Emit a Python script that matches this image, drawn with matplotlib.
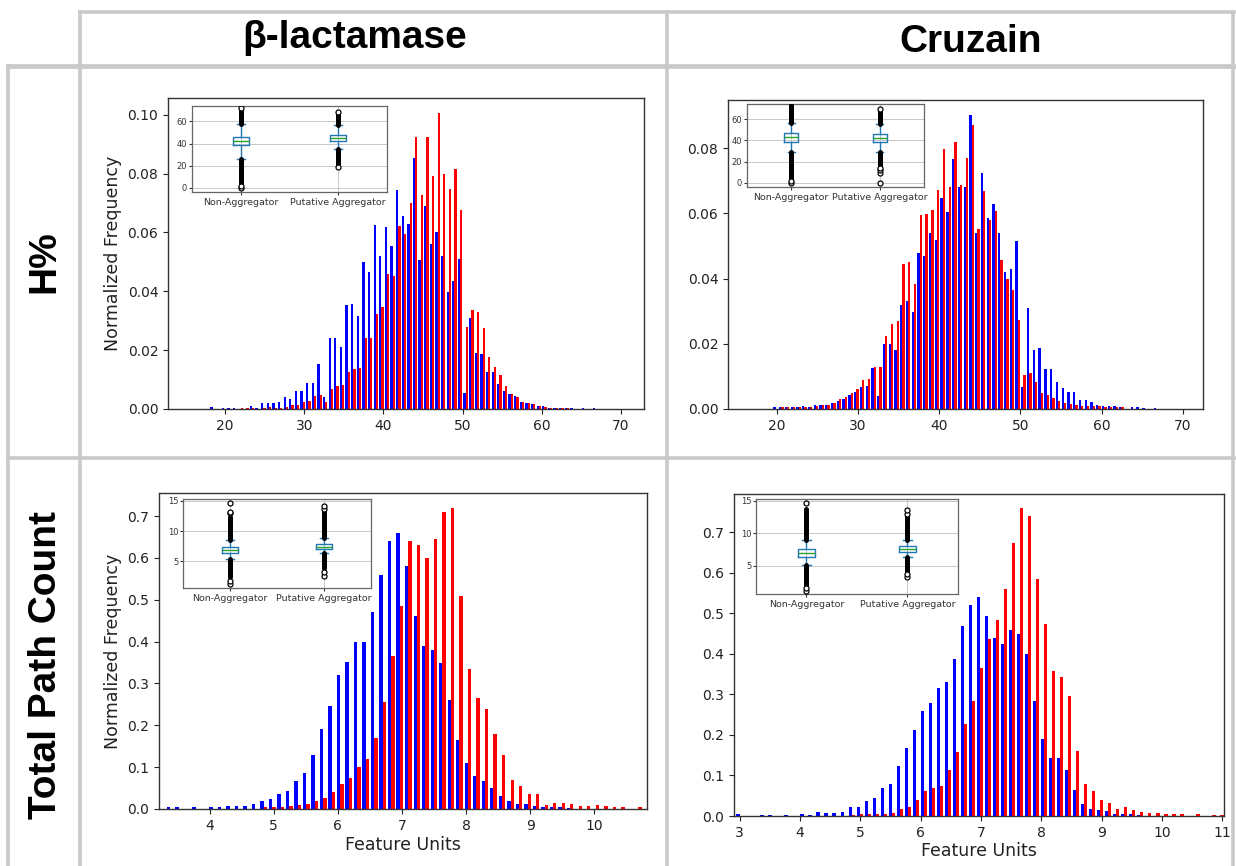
import numpy as np
import matplotlib.pyplot as plt

W, H = 1236, 866

# ---- histogram data (normalized frequency per bin) ----
# H% panels: 72 bins, first blue bar centre and bin width
hp_start, hp_binw = 16.17, 0.71

blac_hp_blue = [0, 0, 0, 0.0006, 0, 0.0005, 0.0005, 0.0005, 0, 0, 0.001, 0.0003,
                0.002, 0.002, 0.002, 0.0024, 0.004, 0.0034, 0.0062, 0.0062, 0.009, 0.0087,
                0.0153, 0.0042, 0.024, 0.024, 0.021, 0.0353, 0.0357, 0.0317, 0.050, 0.0467,
                0.0626, 0.052, 0.062, 0.0555, 0.0744, 0.0657, 0.0629, 0.0853, 0.0506, 0.069,
                0.056, 0.060, 0.052, 0.0396, 0.0436, 0.051, 0.0053, 0.031, 0.019, 0.0187,
                0.0125, 0.0125, 0.0085, 0.0062, 0.005, 0.0045, 0.0023, 0.002, 0.0017, 0.0011,
                0.0009, 0.0005, 0.0005, 0.0004, 0.0004, 0.0004, 0, 0.0004, 0, 0.0004]
blac_hp_red = [0, 0, 0, 0, 0, 0, 0, 0, 0.0005, 0.0005, 0.0005, 0, 0.0005, 0.0007,
               0.0005, 0.0005, 0.0008, 0.0015, 0.0014, 0.0023, 0.0028, 0.0045, 0.0049, 0.0023,
               0.0068, 0.0077, 0.0083, 0.0125, 0.0136, 0.0139, 0.0241, 0.0241, 0.0323, 0.0345,
               0.046, 0.0453, 0.0623, 0.0595, 0.070, 0.0925, 0.0727, 0.0926, 0.0793, 0.1007,
               0.080, 0.0747, 0.0815, 0.0676, 0.028, 0.0336, 0.0328, 0.0274, 0.0178, 0.0144,
               0.0115, 0.0079, 0.005, 0.0042, 0.0023, 0.002, 0.0017, 0.0011, 0.0008, 0.0005,
               0.0005, 0.0004, 0.0004, 0, 0, 0, 0, 0]

cruz_hp_blue = [0, 0, 0, 0, 0, 0.0005, 0.0005, 0.0005, 0.0005, 0.0005, 0.0008, 0.0005,
                0.0013, 0.0013, 0.0013, 0.0017, 0.0026, 0.0031, 0.0043, 0.0053, 0.0067, 0.007,
                0.0126, 0.0039, 0.020, 0.020, 0.0182, 0.032, 0.033, 0.0297, 0.048, 0.047,
                0.054, 0.052, 0.0646, 0.0605, 0.0767, 0.068, 0.068, 0.0902, 0.054, 0.0723,
                0.0585, 0.063, 0.054, 0.042, 0.043, 0.0514, 0.0068, 0.031, 0.018, 0.0186,
                0.0122, 0.0124, 0.0082, 0.0065, 0.0052, 0.0052, 0.0027, 0.0028, 0.002, 0.0013,
                0.0009, 0.0009, 0.0008, 0.0005, 0, 0.0005, 0.0005, 0.0004, 0, 0.0004]
cruz_hp_red = [0, 0, 0, 0, 0, 0, 0.0005, 0.0005, 0.0005, 0.0006, 0.0005, 0.0005,
               0.0008, 0.0013, 0.0013, 0.0017, 0.0031, 0.0038, 0.0048, 0.0062, 0.0089, 0.0092,
               0.0128, 0.0128, 0.0225, 0.026, 0.027, 0.0446, 0.045, 0.0384, 0.0595, 0.0597,
               0.061, 0.0673, 0.0797, 0.068, 0.082, 0.0687, 0.077, 0.087, 0.0553, 0.067,
               0.058, 0.0606, 0.0457, 0.040, 0.0365, 0.0273, 0.0104, 0.011, 0.0083, 0.005,
               0.0043, 0.0033, 0.0026, 0.0017, 0.0015, 0.0012, 0.001, 0.0008, 0.0008, 0.0008,
               0.0006, 0.0006, 0.0005, 0.0005, 0, 0, 0, 0, 0, 0]

# Total Path Count panels
blac_tpc_start, blac_tpc_binw = 3.357, 0.1327
blac_tpc_blue = [0.005, 0.005, 0, 0.004, 0, 0.004, 0.004, 0.007, 0.008, 0.008, 0.011, 0.018,
                 0.025, 0.035, 0.043, 0.067, 0.085, 0.13, 0.19, 0.245, 0.32, 0.352, 0.398, 0.40,
                 0.47, 0.56, 0.64, 0.66, 0.58, 0.46, 0.39, 0.38, 0.35, 0.26, 0.165, 0.11,
                 0.08, 0.067, 0.05, 0.03, 0.02, 0.012, 0.012, 0.008, 0.004, 0.005, 0.004, 0.003,
                 0, 0, 0, 0, 0, 0, 0, 0, 0]
blac_tpc_red = [0, 0, 0, 0, 0, 0, 0, 0, 0, 0, 0, 0.004, 0.005, 0.005, 0.008, 0.010, 0.012,
                0.018, 0.026, 0.04, 0.06, 0.075, 0.10, 0.12, 0.17, 0.255, 0.365, 0.485, 0.64,
                0.63, 0.60, 0.645, 0.71, 0.72, 0.51, 0.335, 0.265, 0.24, 0.18, 0.13, 0.07,
                0.055, 0.035, 0.035, 0.01, 0.014, 0.014, 0.013, 0.008, 0.008, 0.01, 0.008,
                0.004, 0.004, 0, 0.005, 0.005]

cruz_tpc_start, cruz_tpc_binw = 2.97, 0.1329
cruz_tpc_blue = [0.004, 0, 0, 0.003, 0.003, 0, 0.003, 0, 0.006, 0.003, 0.009, 0.007, 0.007,
                 0.011, 0.022, 0.022, 0.037, 0.045, 0.07, 0.08, 0.123, 0.168, 0.213, 0.26,
                 0.278, 0.315, 0.33, 0.388, 0.47, 0.52, 0.54, 0.495, 0.44, 0.425, 0.458, 0.45,
                 0.40, 0.283, 0.19, 0.143, 0.143, 0.114, 0.065, 0.03, 0.018, 0.016, 0.012,
                 0.005, 0.004, 0.004, 0.003, 0, 0, 0, 0, 0, 0, 0, 0, 0, 0]
cruz_tpc_red = [0, 0, 0, 0, 0, 0, 0, 0, 0, 0, 0, 0, 0, 0, 0.003, 0.004, 0.004, 0.004, 0.004,
                0.007, 0.017, 0.022, 0.04, 0.062, 0.07, 0.075, 0.113, 0.157, 0.228, 0.285,
                0.365, 0.438, 0.485, 0.56, 0.675, 0.76, 0.74, 0.585, 0.475, 0.358, 0.343,
                0.297, 0.16, 0.08, 0.062, 0.04, 0.033, 0.018, 0.021, 0.014, 0.01, 0.008,
                0.007, 0.004, 0.004, 0.004, 0, 0.004, 0, 0.003, 0.003]

# ---- inset boxplot summaries: q1, median, q3, whisker lo, whisker hi ----
box_labels = ["Non-Aggregator", "Putative Aggregator"]
blac_hp_box = [(39.0, 42.8, 46.4, 26.0, 58.0), (42.5, 45.5, 47.8, 35.0, 57.0)]
blac_hp_fl_bands = [[(3.0, 26.0), (58.0, 71.5)], [(20.5, 35.0), (57.0, 68.0)]]
blac_hp_fl_pts = [[0.3, 1.5, 71.8], [19.3, 68.5]]
cruz_hp_box = [(38.8, 43.0, 46.8, 29.5, 56.5), (38.8, 42.0, 46.0, 29.5, 55.0)]
cruz_hp_fl_bands = [[(2.5, 29.5), (56.5, 73.0)], [(17.0, 29.5), (55.0, 67.5)]]
cruz_hp_fl_pts = [[0.0, 1.9], [0.0, 9.0, 12.0, 14.5, 69.0]]
blac_tpc_box = [(6.3, 6.8, 7.3, 5.3, 8.5), (7.05, 7.4, 7.8, 6.3, 8.8)]
blac_tpc_fl_bands = [[(2.4, 5.3), (8.5, 12.3)], [(3.8, 6.3), (8.8, 13.3)]]
blac_tpc_fl_pts = [[1.2, 1.8, 12.9, 13.2, 14.7], [2.5, 3.2, 13.6, 14.1]]
cruz_tpc_box = [(6.4, 7.05, 7.6, 5.2, 8.9), (7.15, 7.6, 8.0, 6.3, 8.9)]
cruz_tpc_fl_bands = [[(2.1, 5.2), (8.9, 13.7)], [(3.6, 6.3), (8.9, 12.6)]]
cruz_tpc_fl_pts = [[1.2, 1.6, 14.6], [3.3, 3.8, 13.0, 13.6]]


def px_box(l, t, r, b):
    return [l / W, 1 - b / H, (r - l) / W, (b - t) / H]


def hist_panel(ax, start, binw, blue, red, xlim, ylim, xticks, yticks, ylabel=None, xlabel=None):
    k = np.arange(len(blue))
    pos = start + k * binw
    w = 0.4 * binw
    ax.bar(pos, blue, width=w, color="#0000ff", linewidth=0)
    ax.bar(pos + w, red, width=w, color="#ff0000", linewidth=0)
    ax.set_xlim(*xlim)
    ax.set_ylim(*ylim)
    ax.set_xticks(xticks)
    ax.set_yticks(yticks)
    ax.tick_params(labelsize=10, colors="#222222")
    for s in ax.spines.values():
        s.set_color("#333333")
        s.set_linewidth(1.0)
    if ylabel:
        ax.set_ylabel(ylabel, fontsize=12.5, color="#222222")
    if xlabel:
        ax.set_xlabel(xlabel, fontsize=12.5, color="#222222", labelpad=2)


def box_inset(ax, boxes, bands, pts, ylim, yticks):
    stats = []
    for (q1, med, q3, lo, hi) in boxes:
        stats.append(dict(q1=q1, med=med, q3=q3, whislo=lo, whishi=hi, fliers=[]))
    blue = "#1f77b4"
    ax.bxp(stats, positions=[1, 2], widths=0.16, showfliers=False,
           boxprops=dict(color=blue, lw=1.0), whiskerprops=dict(color=blue, lw=1.0),
           capprops=dict(color=blue, lw=1.0), medianprops=dict(color="#2ca02c", lw=1.0))
    for i, (bb, pp) in enumerate(zip(bands, pts)):
        x = i + 1
        lc = ax.vlines([x] * len(bb), [b[0] for b in bb], [b[1] for b in bb],
                       color="black", lw=3.6, zorder=3)
        lc.set_capstyle("round")
        ax.plot([x] * len(pp), pp, "o", mfc="white", mec="black", ms=3.6, mew=0.9, zorder=4)
    ax.set_xlim(0.5, 2.5)
    ax.set_ylim(*ylim)
    ax.set_yticks(yticks)
    ax.set_xticks([1, 2])
    ax.set_xticklabels(box_labels)
    ax.grid(True, color="#c8c8c8", lw=0.7)
    ax.set_axisbelow(True)
    ax.tick_params(axis="x", labelsize=6.8, length=2, pad=2, colors="#333333")
    ax.tick_params(axis="y", labelsize=6, length=2, pad=1.5, colors="#333333")
    for s in ax.spines.values():
        s.set_color("#666666")
        s.set_linewidth(0.9)


fig = plt.figure(figsize=(W / 100, H / 100), dpi=100)

# table frame and headers
bg = fig.add_axes([0, 0, 1, 1])
bg.set_xlim(0, W)
bg.set_ylim(H, 0)
bg.axis("off")
grey = "#c9c9c9"
lw = 2.6
bg.plot([80, 1234], [12, 12], color=grey, lw=lw)
bg.plot([8, 1234], [66, 66], color=grey, lw=lw + 0.8)
bg.plot([8, 1234], [458, 458], color=grey, lw=lw)
for x0, y0 in [(80, 12), (667, 12), (1233, 12), (8, 66)]:
    bg.plot([x0, x0], [y0, H], color=grey, lw=lw)

hfont = dict(family="Liberation Sans", weight="bold", fontsize=28, color="black")
bg.text(355, 38, "β-lactamase", ha="center", va="center", **hfont)
bg.text(971, 42, "Cruzain", ha="center", va="center", **hfont)
bg.text(44, 262, "H%", ha="center", va="center", rotation=90, **hfont)
bg.text(46, 665, "Total Path Count", ha="center", va="center", rotation=90, **hfont)

# main histograms
ax1 = fig.add_axes(px_box(168, 98, 644, 409))
hist_panel(ax1, hp_start, hp_binw, blac_hp_blue, blac_hp_red, (12.8, 72.9), (0, 0.1057),
           np.arange(20, 71, 10), np.arange(0, 0.101, 0.02), ylabel="Normalized Frequency")
ax2 = fig.add_axes(px_box(728, 100, 1203, 409))
hist_panel(ax2, hp_start, hp_binw, cruz_hp_blue, cruz_hp_red, (14.0, 72.5), (0, 0.0948),
           np.arange(20, 71, 10), np.arange(0, 0.081, 0.02))
ax3 = fig.add_axes(px_box(159, 493, 647, 809))
hist_panel(ax3, blac_tpc_start, blac_tpc_binw, blac_tpc_blue, blac_tpc_red, (3.21, 10.82),
           (0, 0.755), np.arange(4, 11), np.arange(0, 0.71, 0.1),
           ylabel="Normalized Frequency", xlabel="Feature Units")
ax4 = fig.add_axes(px_box(734, 494, 1224, 816))
hist_panel(ax4, cruz_tpc_start, cruz_tpc_binw, cruz_tpc_blue, cruz_tpc_red, (2.905, 11.03),
           (0, 0.795), np.arange(3, 12), np.arange(0, 0.71, 0.1), xlabel="Feature Units")
for ax in (ax1, ax2):
    ax.yaxis.set_major_formatter(plt.FormatStrFormatter("%.2f"))
for ax in (ax3, ax4):
    ax.yaxis.set_major_formatter(plt.FormatStrFormatter("%.1f"))

# inset boxplots
in1 = fig.add_axes(px_box(192, 106, 387, 192))
box_inset(in1, blac_hp_box, blac_hp_fl_bands, blac_hp_fl_pts, (-3.7, 74), [0, 20, 40, 60])
in2 = fig.add_axes(px_box(747, 104, 924, 187))
box_inset(in2, cruz_hp_box, cruz_hp_fl_bands, cruz_hp_fl_pts, (-3.8, 74.1), [0, 20, 40, 60])
in3 = fig.add_axes(px_box(183, 499, 371, 588))
box_inset(in3, blac_tpc_box, blac_tpc_fl_bands, blac_tpc_fl_pts, (0.56, 15.3), [5, 10, 15])
in4 = fig.add_axes(px_box(756, 499, 958, 594))
box_inset(in4, cruz_tpc_box, cruz_tpc_fl_bands, cruz_tpc_fl_pts, (0.7, 15.26), [5, 10, 15])

fig.savefig("out.png", dpi=100)
